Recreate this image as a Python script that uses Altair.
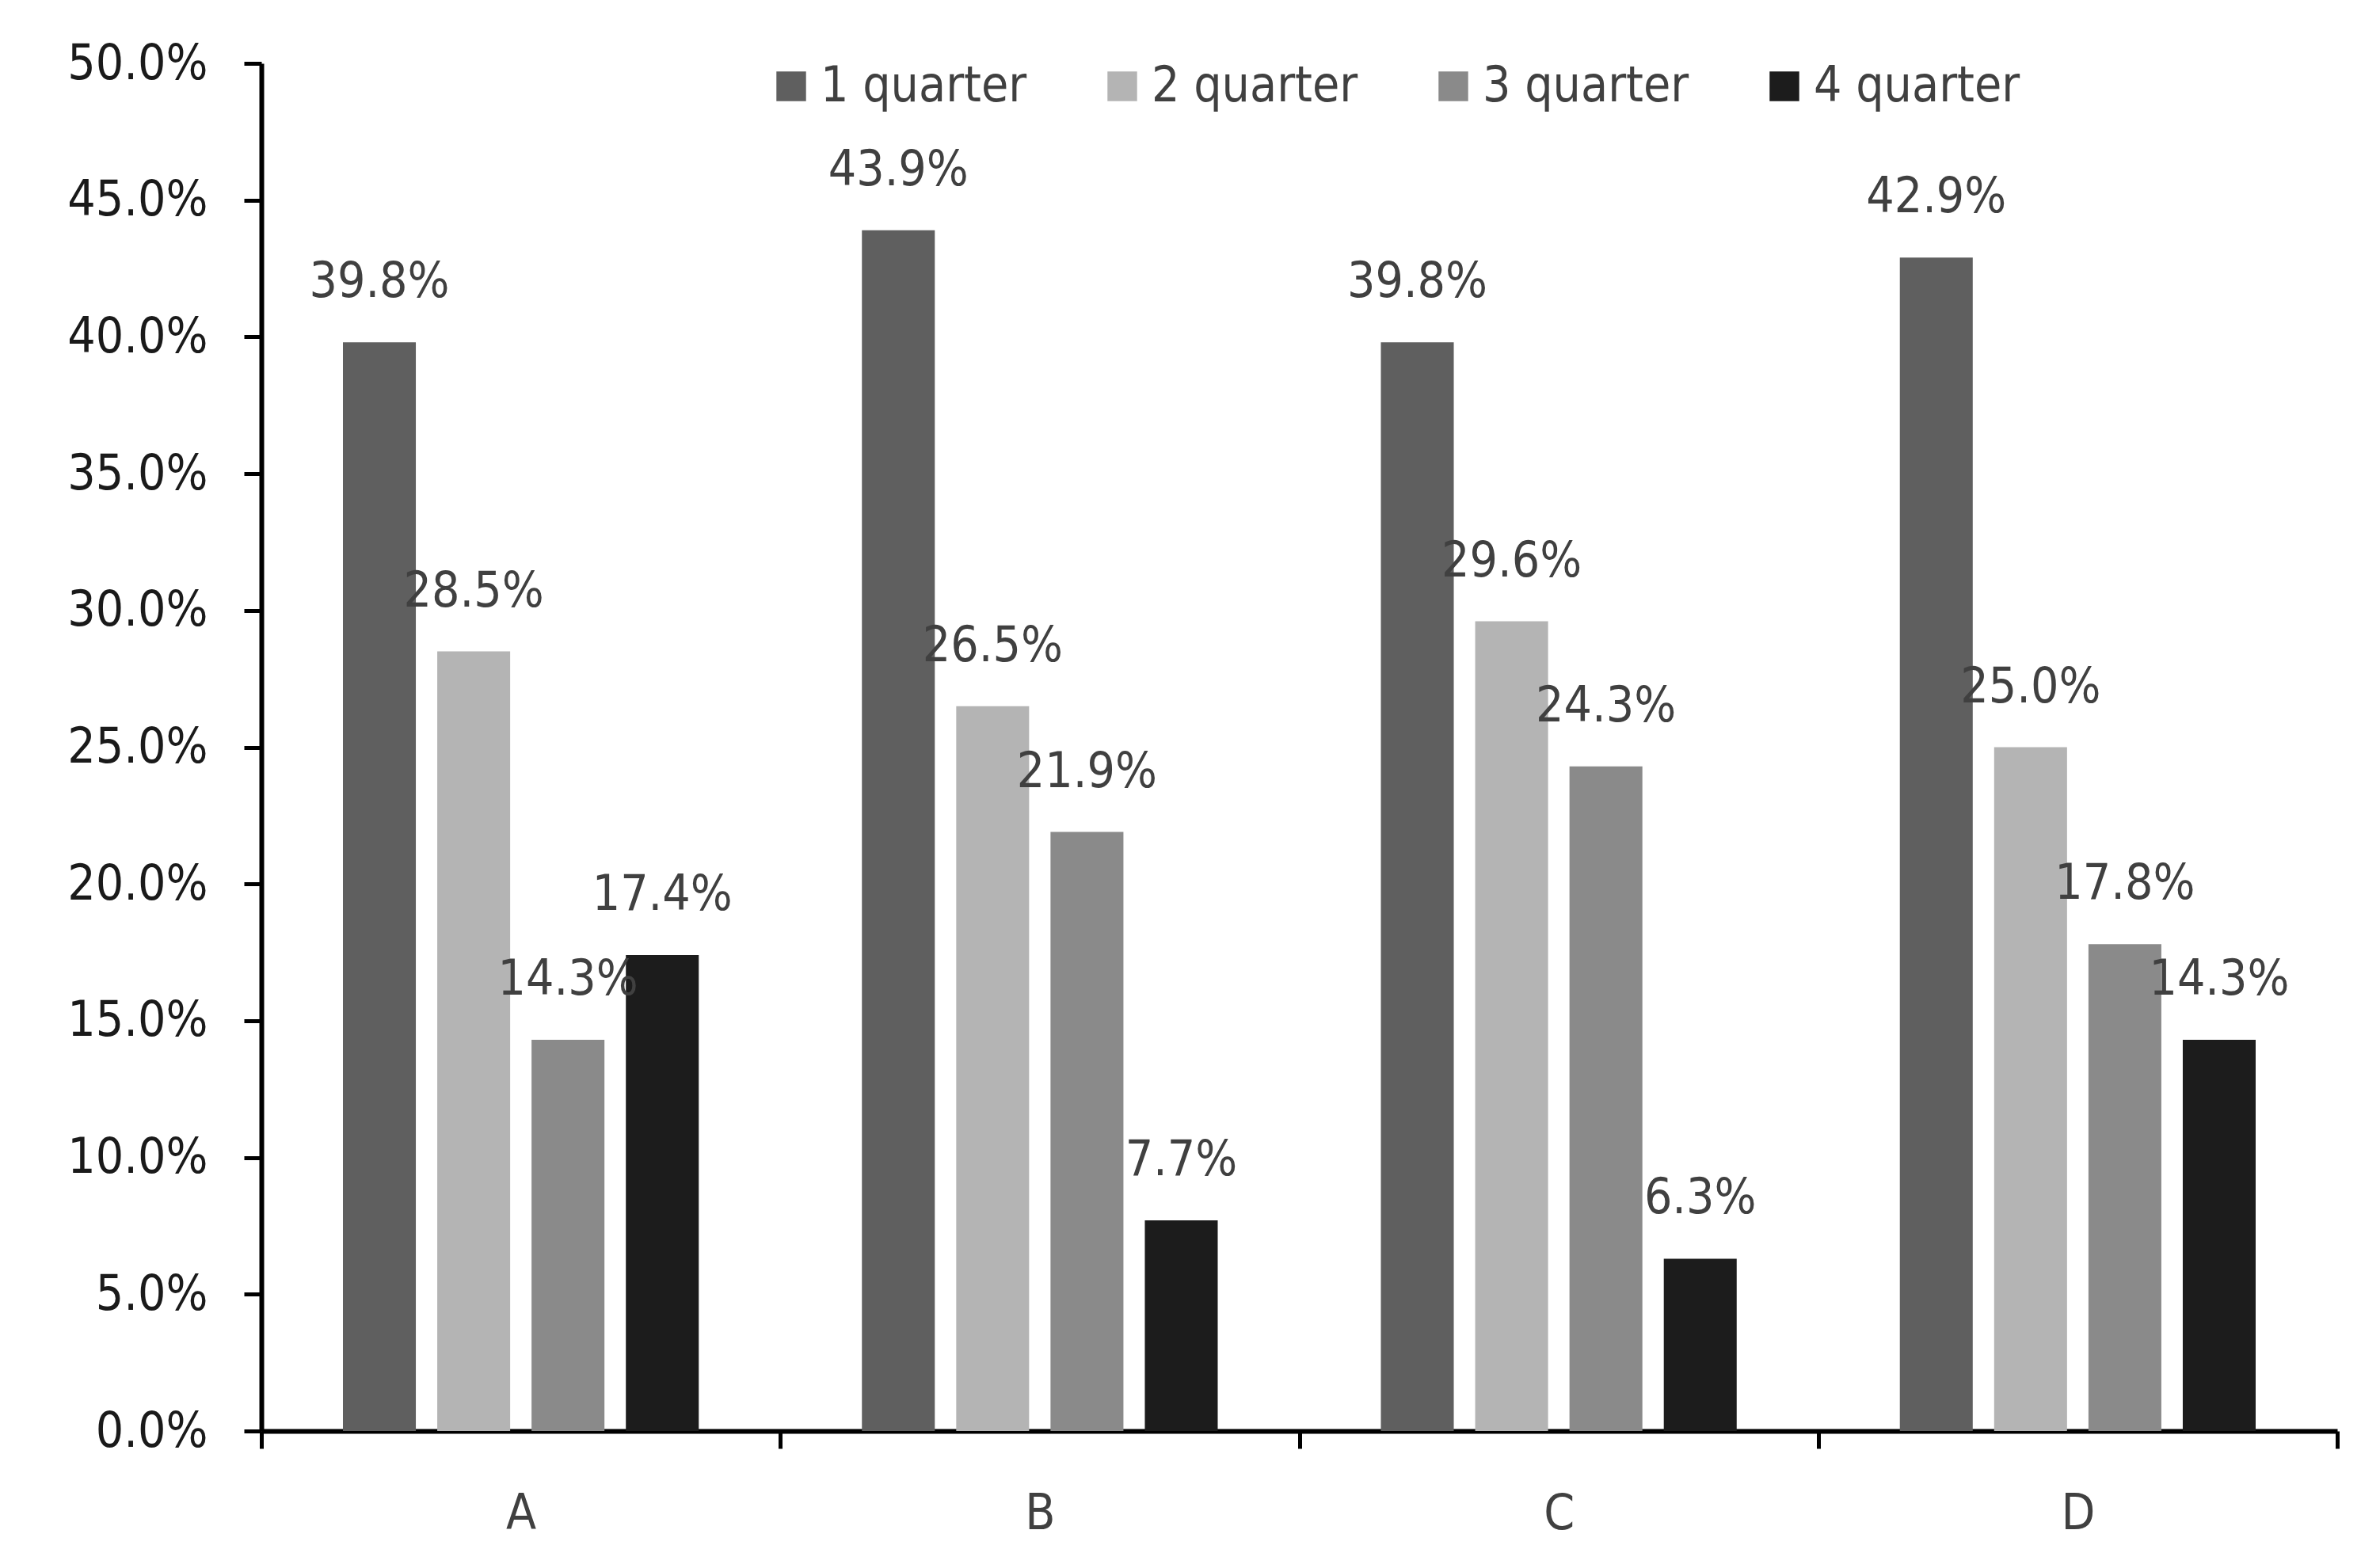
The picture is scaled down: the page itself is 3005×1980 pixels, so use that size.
import altair as alt
import pandas as pd

categories = ["A", "B", "C", "D"]
quarters = ["1 quarter", "2 quarter", "3 quarter", "4 quarter"]
q1 = [0.398, 0.439, 0.398, 0.429]
q2 = [0.285, 0.265, 0.296, 0.250]
q3 = [0.143, 0.219, 0.243, 0.178]
q4 = [0.174, 0.077, 0.063, 0.143]
colors = ["#5f5f5f", "#b4b4b4", "#8a8a8a", "#1c1c1c"]
y_ticks = [0.0, 0.05, 0.10, 0.15, 0.20, 0.25, 0.30, 0.35, 0.40, 0.45, 0.50]

rows = []
for q, vals in zip(quarters, [q1, q2, q3, q4]):
    for c, v in zip(categories, vals):
        rows.append({"category": c, "quarter": q, "value": v})
df = pd.DataFrame(rows)

FONT = "DejaVu Sans Condensed"
FS = 62

x_enc = alt.X(
    "category:N", sort=categories, title=None,
    scale=alt.Scale(paddingInner=0, paddingOuter=0),
    axis=alt.Axis(labelAngle=0, tickBand="extent", domainWidth=6, domainColor="black",
                  tickColor="black", tickWidth=5, tickSize=22, labelFontSize=FS,
                  labelFont=FONT, labelColor="#404040", labelPadding=52),
)
xoff = alt.XOffset("quarter:N", sort=quarters,
                   scale=alt.Scale(paddingInner=0.227, paddingOuter=0.865))
y_enc = alt.Y(
    "value:Q", title=None,
    scale=alt.Scale(domain=[0, 0.5], nice=False),
    axis=alt.Axis(values=y_ticks, format=".1%", grid=False, domainWidth=6, domainColor="black",
                  tickColor="black", tickWidth=5, tickSize=22, labelFontSize=FS,
                  labelFont=FONT, labelColor="#1a1a1a", labelPadding=46),
)

bars = alt.Chart(df).mark_bar().encode(
    x=x_enc, xOffset=xoff, y=y_enc,
    color=alt.Color("quarter:N", sort=quarters, title=None,
                    scale=alt.Scale(domain=quarters, range=colors),
                    legend=alt.Legend(orient="none", direction="horizontal", legendX=638, legendY=-2,
                                      symbolType="square", symbolSize=1400, symbolStrokeWidth=0,
                                      labelFontSize=FS, labelFont=FONT, labelColor="#404040",
                                      labelLimit=0, labelOffset=6, columnPadding=89, padding=0)),
)

labels = alt.Chart(df).mark_text(baseline="alphabetic", dy=-57, fontSize=FS, font=FONT,
                                 color="#404040").encode(
    x=alt.X("category:N", sort=categories),
    xOffset=alt.XOffset("quarter:N", sort=quarters),
    y=alt.Y("value:Q"),
    text=alt.Text("value:Q", format=".1%"),
)

chart = alt.layer(bars, labels).properties(
    width=2621, height=1727,
    padding={"left": 322, "top": 72, "right": 40, "bottom": 150},
    autosize=alt.AutoSizeParams(type="none"),
).configure_view(stroke=None)

chart.save("out.html", embed_options={"renderer": "svg", "actions": False})
